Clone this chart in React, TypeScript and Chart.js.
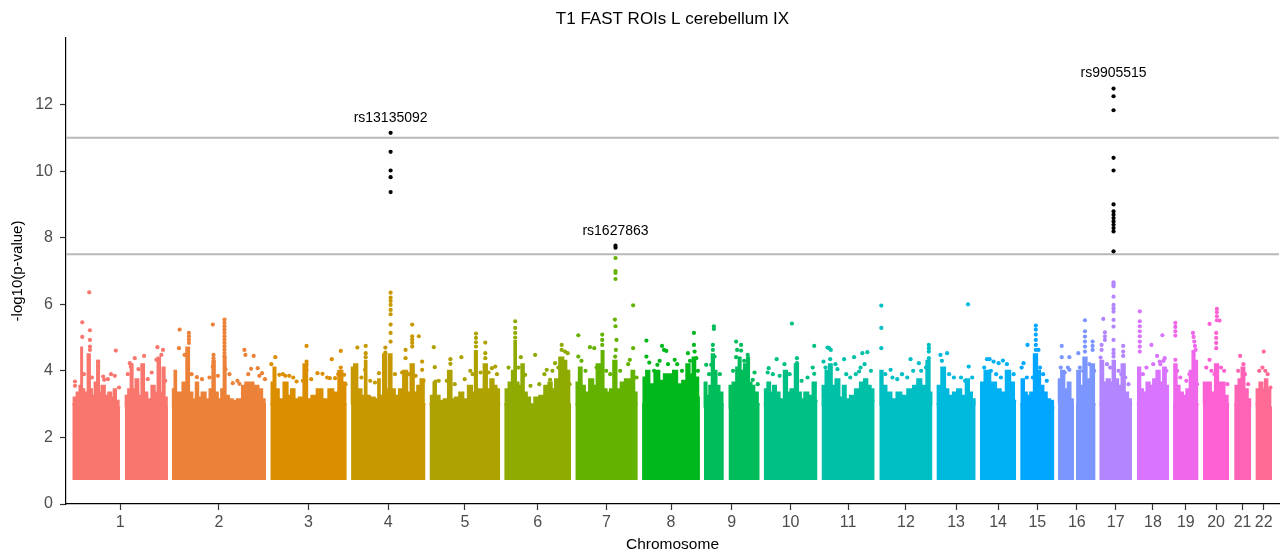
import React, { useEffect, useRef } from 'react';
import { Chart, registerables } from 'chart.js';

Chart.register(...registerables);

// ---------- data (x = cumulative genomic position, Mb; y = -log10(p)) ----------
const chromosomes = ['1','2','3','4','5','6','7','8','9','10','11','12','13','14','15','16','17','18','19','20','21','22'];
const yTickValues = [0, 2, 4, 6, 8, 10, 12];
const thresholdLines = [7.5, 11];
const lowestLogP = 0.72;
const xLimits = [-15, 3027.5];
const yLimits = [0, 14];

// upper contour of the dense SNP mass, per chromosome arm
const mass1a = [[0.8,3.0],[7.5,3.2],[15.8,3.35],[21.7,3.55],[24.2,4.7],[26.7,3.45],[35,3.35],[43.3,4.5],[46.7,3.45],[53.3,3.25],[60,3.65],[65.8,4.3],[70,3.35],[78.3,3.55],[86.7,3.25],[95,3.35],[101.7,3.2],[107.5,3.45],[113.3,3.1],[120.8,2.9]];
const mass1b = [[132.5,2.9],[136.7,3.25],[145,3.45],[149.2,4.2],[155,3.45],[163.3,3.75],[170,3.25],[178.3,4.2],[183.3,3.35],[195,3.15],[203.3,3.55],[211.7,3.35],[217.5,4.4],[224.2,3.35],[230,4.1],[235,3.2],[240.8,2.9]];
const mass2 = [[250.8,2.9],[255,3.45],[259.2,4.0],[263.3,3.35],[271.7,3.35],[282.5,3.65],[290.8,4.7],[296.7,3.35],[307.5,3.15],[313.3,3.65],[320,3.2],[330,3.35],[340.8,3.15],[349.2,3.45],[355,4.3],[361.7,3.35],[370,3.15],[378.3,3.45],[382.5,4.4],[388.3,3.25],[399.2,3.15],[407.5,3.1],[420,3.15],[432.5,3.55],[436.7,3.65],[449.2,3.65],[461.7,3.55],[474.2,3.45],[480,3.15],[486.7,3.0]];
const mass3 = [[497.5,3.0],[503.3,3.65],[507.5,4.1],[513.3,3.45],[524.2,3.15],[536.7,3.65],[545,3.25],[553.3,3.45],[563.3,3.15],[574.2,3.2],[586.7,4.2],[593.3,3.15],[607.5,3.25],[620,3.45],[636.7,3.15],[649.2,3.45],[661.7,3.35],[674.2,4.0],[682.5,3.65],[689.2,3.0]];
const mass4 = [[700,3.0],[703.3,4.1],[711.7,4.2],[720,3.45],[732.5,3.25],[736.7,4.3],[740.8,3.25],[753.3,3.2],[765.8,3.15],[770,3.75],[774.2,3.25],[786,4.5],[790,3.45],[799.2,4.5],[804,3.45],[815.8,3.25],[824.2,3.45],[836.7,4.0],[845,3.35],[853.3,4.2],[861.7,3.35],[870,3.55],[878.3,3.75],[886.7,3.0]];
const mass5 = [[896.7,3.0],[903.3,3.25],[910,3.65],[915.8,3.25],[928.3,3.1],[936.7,3.15],[949.2,4.0],[955,3.15],[965.8,3.2],[976.7,3.35],[986.7,3.15],[999.2,3.55],[1007.5,3.35],[1013.3,4.6],[1018.3,3.45],[1028.3,3.45],[1036.7,4.2],[1045,3.45],[1053.3,3.75],[1061.7,3.55],[1068.3,3.45],[1074.2,3.0]];
const mass6 = [[1084.2,3.0],[1090.8,3.45],[1099.2,3.65],[1107.5,4.0],[1111.7,4.9],[1115.8,3.65],[1124.2,3.55],[1130,4.2],[1136.7,3.35],[1145,3.2],[1153.3,3.0],[1165.8,3.2],[1178.3,3.25],[1190.8,3.55],[1199.2,3.65],[1207.5,3.45],[1215.8,3.75],[1228.3,4.4],[1236.7,4.3],[1243.3,4.0],[1251.7,3.0]];
const mass7 = [[1262.5,3.0],[1268.3,3.65],[1274.2,4.1],[1282.5,3.55],[1290.8,3.35],[1303.3,3.75],[1311.7,3.55],[1320,4.2],[1326.7,4.2],[1330,4.6],[1336.7,3.45],[1345,3.35],[1353.3,3.45],[1361.7,4.3],[1370,3.45],[1382.5,3.65],[1390.8,3.75],[1399.2,3.75],[1407.5,4.0],[1413.3,3.35],[1419.2,3.0]];
const mass8 = [[1430,3.0],[1436.7,3.8],[1443.3,4.0],[1453.3,3.6],[1468.3,4.0],[1478.3,3.7],[1490.8,3.9],[1503.3,3.9],[1511.7,4.0],[1524.2,3.6],[1536.7,3.7],[1545,4.2],[1553.3,3.9],[1560,4.4],[1566.7,3.8],[1575,3.2]];
const mass9a = [[1585,2.9],[1588.3,3.65],[1595,3.25],[1601.7,3.55],[1607.5,4.5],[1613.3,4.0],[1620,3.55],[1628.3,3.35],[1635,3.0]];
const mass9b = [[1646.7,2.9],[1651.7,3.55],[1661.7,3.65],[1670,4.1],[1674.2,4.4],[1680,4.0],[1690.8,4.2],[1695,4.4],[1701.7,3.65],[1707.5,3.55],[1715.8,3.35],[1725,3.0]];
const mass10 = [[1735,3.0],[1740.8,3.45],[1747.5,3.65],[1755,3.35],[1761.7,3.55],[1770,3.35],[1780,3.15],[1790.8,4.0],[1796.7,3.35],[1807.5,3.45],[1818.3,4.2],[1824.2,3.35],[1832.5,3.15],[1840.8,3.35],[1853.3,3.25],[1861.7,3.65],[1870,3.1]];
const mass11 = [[1880,3.0],[1885,3.55],[1895,4.0],[1901.7,4.2],[1910,3.55],[1920,3.75],[1930,3.2],[1936.7,3.55],[1945,3.15],[1957.5,3.25],[1970,3.45],[1982.5,3.65],[1990.8,3.75],[1999.2,3.55],[2007.5,3.45],[2013.3,3.1]];
const mass12 = [[2025,3.0],[2030,4.0],[2036.7,3.55],[2049.2,3.35],[2061.7,3.15],[2074.2,3.35],[2086.7,3.25],[2103.3,3.45],[2115.8,3.55],[2124.2,3.75],[2136.7,3.55],[2149.2,4.3],[2153.3,3.35],[2158.3,3.0]];
const mass13 = [[2168.3,3.0],[2174.2,3.55],[2186.7,4.1],[2193.3,3.45],[2203.3,3.25],[2215.8,3.35],[2224.2,3.45],[2236.7,3.25],[2246.7,3.75],[2253.3,3.35],[2261.7,3.15],[2266.7,3.0]];
const mass14 = [[2277.5,3.0],[2282.5,3.65],[2295,4.0],[2311.7,3.65],[2324.2,3.45],[2335,3.35],[2349.2,4.0],[2357.5,3.65],[2368.3,3.1]];
const mass15 = [[2378.3,3.0],[2385,3.75],[2390.8,3.35],[2399.2,3.25],[2407.5,3.35],[2417.5,4.5],[2424.2,4.0],[2432.5,3.55],[2440.8,3.35],[2449.2,3.15],[2457.5,3.1],[2464.2,2.9]];
const mass16a = [[2473.3,3.0],[2476.7,3.75],[2485,4.0],[2493.3,3.45],[2501.7,3.65],[2507.5,3.15],[2513.3,3.0]];
const mass16b = [[2518.3,3.0],[2524.2,4.0],[2532.5,3.55],[2540.8,4.4],[2549.2,3.75],[2560,4.2],[2567.5,3.0]];
const mass17 = [[2576.7,3.0],[2582.5,4.3],[2590.8,3.65],[2599.2,3.75],[2607.5,3.65],[2612.5,4.3],[2620,3.75],[2628.3,3.55],[2636.7,4.2],[2645,3.35],[2653.3,3.15],[2659.2,3.0]];
const mass18 = [[2670.8,3.0],[2676.7,4.1],[2682.5,3.45],[2690.8,3.35],[2699.2,3.65],[2707.5,3.55],[2715.8,3.75],[2724.2,4.0],[2732.5,3.65],[2740.8,4.1],[2746.7,3.55],[2751.7,3.1]];
const mass19 = [[2761.7,3.0],[2767.5,4.2],[2774.2,3.55],[2782.5,3.35],[2790.8,3.25],[2799.2,3.45],[2807.5,4.0],[2813.3,4.6],[2818.3,4.3],[2825.8,3.0]];
const mass20 = [[2836.7,3.0],[2840.8,3.65],[2851.7,3.65],[2861.7,3.35],[2871.7,4.2],[2878.3,3.65],[2886.7,3.65],[2895,3.25],[2902.5,3.0]];
const mass21 = [[2915,3.0],[2921.7,3.55],[2930,3.75],[2936.7,4.1],[2945,3.45],[2953.3,3.15],[2957.5,2.9]];
const mass22 = [[2968.3,3.0],[2974.2,3.45],[2982.5,3.65],[2989.2,3.45],[2995,3.75],[3001.7,3.45],[3010,2.9]];

const massSegments: [number, number[][]][] = [
  [1, mass1a], [1, mass1b], [2, mass2], [3, mass3], [4, mass4], [5, mass5], [6, mass6], [7, mass7],
  [8, mass8], [9, mass9a], [9, mass9b], [10, mass10], [11, mass11], [12, mass12], [13, mass13],
  [14, mass14], [15, mass15], [16, mass16a], [16, mass16b], [17, mass17], [18, mass18],
  [19, mass19], [20, mass20], [21, mass21], [22, mass22],
];

// individual SNPs standing out above the mass: [chromosome, position, -log10 p]
const standoutSnps: number[][] = [
  [1,43.3,6.36],[1,25.8,5.46],[1,25.8,5.02],[1,45,5.22],[1,45,4.93],[1,45,4.73],[1,45,4.63],[1,110,4.61],[1,107.5,3.85],[1,7.5,3.68],[1,7.5,3.55],[1,65.8,4.28],[1,65.8,4.13],[1,78.3,3.83],[1,80.8,3.73],[1,157.5,4.38],[1,147.5,4.13],[1,180.8,4.45],[1,176.7,4.15],[1,214.2,4.71],[1,228.3,4.63],[1,211.7,4.33],[1,145,4.23],[1,224.2,4.48],
  [1,30,3.9],[1,50,3.8],[1,90,3.75],[1,98,3.9],[1,118,3.5],[1,140,3.9],[1,167,4.05],[1,190,3.75],[1,200,3.95],[1,234,3.7],
  [2,270,5.24],[2,268.3,4.68],[2,282.5,4.48],[2,293.3,5.14],[2,293.3,5.04],[2,293.3,4.94],[2,293.3,4.84],[2,313.3,3.81],[2,353.3,5.39],[2,355,4.48],[2,355,4.38],[2,353.3,4.13],
  [2,382.5,5.54],[2,382.5,5.44],[2,382.5,5.34],[2,382.5,5.24],[2,382.5,5.14],[2,382.5,5.04],[2,382.5,4.94],[2,382.5,4.84],[2,382.5,4.74],[2,382.5,4.64],[2,382.5,4.54],[2,382.5,4.44],
  [2,385,4.05],[2,403.3,3.63],[2,420,3.61],[2,432.5,4.63],[2,435,4.48],[2,455.8,4.45],[2,449.2,4.06],[2,465.8,4.08],[2,476.7,3.93],
  [2,300,3.9],[2,326,3.75],[2,345,3.8],[2,366,3.85],[2,395,3.9],[2,415,3.7],[2,442,3.9],[2,470,3.85],[2,484,3.75],
  [3,510,4.41],[3,520,3.88],[3,535,3.85],[3,545,3.85],[3,563.3,3.68],[3,588.3,4.75],[3,588.3,4.28],[3,588.3,4.18],[3,588.3,4.03],[3,615.8,3.93],[3,628.3,3.91],[3,651.7,4.35],[3,646.7,3.78],[3,660,3.78],[3,674.2,4.6],[3,674.2,4.1],[3,682.5,3.88],
  [3,500,4.2],[3,529,3.9],[3,555,3.8],[3,579,3.7],[3,600,3.75],[3,640,3.8],[3,668,3.9],[3,686,3.6],
  [4,715.8,4.7],[4,736.7,4.75],[4,736.7,4.53],[4,736.7,4.41],[4,735,4.03],[4,770,3.93],[4,786,4.7],[4,786,4.55],[4,799.2,6.35],[4,799.2,6.2],[4,799.2,6.1],[4,799.2,5.98],[4,799.2,5.83],[4,799.2,5.7],[4,799.2,5.39],[4,799.2,5.14],[4,799.2,4.88],[4,853.3,5.39],[4,853.3,5.04],[4,853.3,4.94],[4,853.3,4.84],[4,853.3,4.73],[4,870,5.04],[4,836.7,4.63],[4,836.7,4.38],[4,878.3,4.28],[4,878.3,4.03],
  [4,708,3.95],[4,726,3.8],[4,748,3.7],[4,760,3.65],[4,810,3.9],[4,828,3.95],[4,845,3.9],[4,862,3.85],[4,882,3.7],
  [5,907.5,4.71],[5,910,4.11],[5,911.7,3.68],[5,949.2,4.35],[5,949.2,4.21],[5,976.7,4.41],[5,999.2,4.0],[5,1013.3,5.12],[5,1013.3,4.99],[5,1013.3,4.86],[5,1013.3,4.73],[5,1036.7,4.85],[5,1036.7,4.53],[5,1036.7,4.38],[5,1053.3,4.08],[5,1061.7,4.13],
  [5,920,3.7],[5,940,3.7],[5,960,3.6],[5,985,3.75],[5,1005,3.9],[5,1025,3.95],[5,1045,3.95],[5,1066,3.9],
  [6,1111.7,5.49],[6,1111.7,5.29],[6,1111.7,5.14],[6,1111.7,5.0],[6,1125.8,4.41],[6,1136.7,3.88],[6,1161.7,4.48],[6,1211.7,4.23],[6,1228.3,4.78],[6,1228.3,4.63],[6,1236.7,4.58],[6,1243.3,4.53],[6,1190.8,4.03],[6,1199.2,3.73],
  [6,1095,4.1],[6,1120,4.1],[6,1150,3.55],[6,1172,3.6],[6,1185,3.9],[6,1205,4.0],[6,1220,4.1],[6,1248,3.6],
  [7,1270,5.07],[7,1270,4.43],[7,1299.2,4.71],[7,1310,4.68],[7,1330,5.09],[7,1330,4.93],[7,1330,4.78],[7,1361.7,5.54],[7,1363.3,5.34],[7,1365.8,4.93],[7,1364.2,4.63],[7,1362.5,4.43],[7,1407.5,4.68],[7,1399.2,4.33],[7,1407.5,5.97],[7,1363.3,7.39],[7,1363.3,7.0],[7,1363.3,6.94],[7,1363.3,6.76],
  [7,1278,4.3],[7,1288,4.0],[7,1316,4.1],[7,1340,4.0],[7,1350,3.9],[7,1375,4.0],[7,1395,4.2],[7,1416,3.8],
  [8,1440.8,4.91],[8,1440.8,4.43],[8,1468.3,4.18],[8,1480,4.75],[8,1485,4.63],[8,1490.8,4.6],[8,1511.7,4.33],[8,1560,5.14],[8,1560,4.78],[8,1561.7,4.58],[8,1565.8,4.38],[8,1545,4.53],
  [8,1448,4.25],[8,1460,4.0],[8,1474,4.3],[8,1495,4.2],[8,1518,4.2],[8,1530,4.0],[8,1550,4.3],[8,1570,4.0],
  [9,1610,5.34],[9,1610,5.26],[9,1607.5,4.78],[9,1607.5,4.63],[9,1611.7,4.43],[9,1590.8,4.18],[9,1603.3,4.18],[9,1665.8,4.88],[9,1678.3,4.78],[9,1668.3,4.63],[9,1678.3,4.61],[9,1695,4.48],[9,1665.8,4.41],[9,1707.5,3.73],[9,1653.3,3.33],
  [9,1598,3.9],[9,1625,3.9],[9,1658,4.0],[9,1686,4.3],[9,1712,3.95],[9,1720,3.6],
  [10,1805.8,5.42],[10,1767.5,4.35],[10,1747.5,4.08],[10,1818.3,4.38],[10,1818.3,4.23],[10,1861.7,3.91],[10,1861.7,4.75],
  [10,1745,3.95],[10,1758,3.9],[10,1775,3.85],[10,1787,4.2],[10,1800,3.9],[10,1830,3.7],[10,1845,3.8],[10,1858,4.1],
  [11,1895,4.7],[11,1899.2,4.68],[11,1903.3,4.63],[11,1885,4.28],[11,1901.7,4.35],[11,1920,4.05],[11,1936.7,4.35],[11,1961.7,4.41],[11,1982.5,4.53],[11,1995,4.56],[11,1974.2,3.98],
  [11,1890,4.1],[11,1915,4.2],[11,1942,3.9],[11,1952,3.8],[11,1966,3.9],[11,1978,4.1],[11,1988,4.2],[11,2004,4.0],
  [12,2030,5.96],[12,2030,5.29],[12,2030,4.68],[12,2053.3,4.03],[12,2103.3,4.35],[12,2124.2,4.23],[12,2149.2,4.78],[12,2149.2,4.68],[12,2149.2,4.58],[12,2149.2,4.38],
  [12,2040,3.9],[12,2058,3.8],[12,2070,3.75],[12,2082,3.9],[12,2095,3.8],[12,2110,4.0],[12,2130,4.0],[12,2142,4.1],
  [13,2178.3,4.48],[13,2195,4.53],[13,2249.2,4.13],[13,2247.5,6.0],
  [13,2182,4.3],[13,2200,3.9],[13,2212,3.8],[13,2230,3.8],[13,2240,3.7],[13,2258,3.8],
  [14,2295,4.35],[14,2311.7,4.28],[14,2324.2,4.23],[14,2335,4.31],[14,2301.7,4.35],
  [14,2288,4.1],[14,2305,4.0],[14,2318,3.9],[14,2330,3.8],[14,2345,4.2],[14,2362,3.9],
  [15,2396.7,4.78],[15,2386.7,4.23],[15,2417.5,5.36],[15,2417.5,5.24],[15,2417.5,5.09],[15,2417.5,4.93],[15,2417.5,4.78],[15,2417.5,4.63],[15,2424.2,4.63],
  [15,2382,4.1],[15,2395,3.8],[15,2410,3.8],[15,2428,4.1],[15,2436,3.9],[15,2445,3.7],
  [16,2482.5,4.75],[16,2482.5,4.41],[16,2501.7,4.41],[16,2501.7,4.03],[16,2540.8,5.52],[16,2540.8,5.19],[16,2540.8,5.03],[16,2540.8,4.88],[16,2540.8,4.73],[16,2540.8,4.58],[16,2560,4.88],[16,2560,4.75],[16,2560,4.63],[16,2524.2,4.53],
  [16,2480,4.1],[16,2490,3.95],[16,2498,4.1],[16,2528,4.1],[16,2536,4.0],[16,2552,4.2],[16,2564,4.0],
  [17,2586.7,5.56],[17,2590.8,5.16],[17,2590.8,5.04],[17,2590.8,4.93],[17,2582.5,4.78],[17,2582.5,4.63],[17,2636.7,4.75],[17,2636.7,4.58],[17,2636.7,4.45],
  [17,2612.5,6.66],[17,2612.5,6.6],[17,2612.5,6.54],[17,2612.5,6.23],[17,2612.5,5.98],[17,2612.5,5.88],[17,2612.5,5.78],[17,2612.5,5.53],[17,2612.5,5.33],[17,2612.5,4.93],[17,2612.5,4.63],[17,2612.5,4.53],[17,2612.5,4.43],
  [17,2580,4.4],[17,2596,4.2],[17,2604,4.1],[17,2625,4.0],[17,2632,3.9],[17,2642,3.8],[17,2650,3.6],
  [18,2678.3,5.79],[18,2678.3,5.49],[18,2678.3,5.34],[18,2678.3,5.19],[18,2678.3,5.04],[18,2678.3,4.88],[18,2678.3,4.73],[18,2678.3,4.58],[18,2707.5,4.78],[18,2721.7,4.45],[18,2735,5.07],[18,2728.3,4.28],[18,2740.8,4.38],
  [18,2686,3.9],[18,2695,4.1],[18,2712,4.2],[18,2730,4.2],[18,2738,4.3],[18,2745,4.0],
  [19,2767.5,5.44],[19,2767.5,5.32],[19,2767.5,5.19],[19,2767.5,5.06],[19,2767.5,4.33],[19,2811.7,5.14],[19,2813.3,5.02],[19,2815,4.88],[19,2816.7,4.75],[19,2818.3,4.63],
  [19,2772,4.0],[19,2780,3.8],[19,2795,3.7],[19,2803,3.9],[19,2822,3.6],
  [20,2853.3,5.41],[20,2871.7,5.86],[20,2871.7,5.76],[20,2871.7,5.64],[20,2871.7,5.52],[20,2878.3,5.51],[20,2870,5.14],[20,2870,4.99],[20,2870,4.84],[20,2870,4.68],[20,2853.3,4.33],
  [20,2845,4.1],[20,2858,4.0],[20,2866,3.9],[20,2882,4.1],[20,2890,4.0],[20,2898,3.6],
  [21,2930,4.45],[21,2938.3,4.2],[21,2925,4.0],[21,2942,3.9],[21,2950,3.6],
  [22,2989.2,4.58],[22,2993.3,4.0],[22,2978,4.0],[22,2986,4.1],[22,2999,3.9],[22,3006,3.5],
];

// genome-wide significant SNPs (black)
const significantSnps: number[][] = [
  [4,799.2,11.15],[4,799.2,10.58],[4,799.2,10.02],[4,799.2,9.82],[4,799.2,9.37],
  [7,1363.3,7.76],[7,1363.3,7.70],
  [17,2612.5,12.48],[17,2612.5,12.25],[17,2612.5,11.83],[17,2612.5,10.40],[17,2612.5,10.02],[17,2612.5,9.0],[17,2612.5,8.79],[17,2612.5,8.69],[17,2612.5,8.59],[17,2612.5,8.49],[17,2612.5,8.39],[17,2612.5,8.29],[17,2612.5,8.19],[17,2612.5,7.59],
];

const leadSnpNames = ['rs13135092', 'rs1627863', 'rs9905515'];
const leadSnpPositions = [799.2, 1363.3, 2612.5];
const leadSnpLogP = [11.15, 7.76, 12.48];

// ---------- styling helpers ----------
const FONT = '"Liberation Sans", Arial, Helvetica, sans-serif';

function hcl(h: number, c: number, l: number): string {
  const hr = (h * Math.PI) / 180;
  const U = c * Math.cos(hr);
  const V = c * Math.sin(hr);
  const Xn = 95.047, Yn = 100, Zn = 108.883;
  const den = Xn + 15 * Yn + 3 * Zn;
  const un = (4 * Xn) / den, vn = (9 * Yn) / den;
  const Y = Yn * (l > 8 ? Math.pow((l + 16) / 116, 3) : l / 903.3);
  const u = U / (13 * l) + un;
  const v = V / (13 * l) + vn;
  const X = (9 * Y * u) / (4 * v);
  const Z = (Y * (12 - 3 * u - 20 * v)) / (4 * v);
  const x = X / 100, y = Y / 100, z = Z / 100;
  const lin = [
    3.2404542 * x - 1.5371385 * y - 0.4985314 * z,
    -0.969266 * x + 1.8760108 * y + 0.041556 * z,
    0.0556434 * x - 0.2040259 * y + 1.0572252 * z,
  ];
  const toHex = (t: number) => {
    let g = t <= 0.0031308 ? 12.92 * t : 1.055 * Math.pow(t, 1 / 2.4) - 0.055;
    g = Math.max(0, Math.min(1, g));
    return Math.round(g * 255).toString(16).padStart(2, '0');
  };
  return '#' + lin.map(toHex).join('');
}

const chromColors = chromosomes.map((_, i) => hcl(15 + (360 * i) / chromosomes.length, 100, 65));

export default function App() {
  const canvasRef = useRef<HTMLCanvasElement | null>(null);

  useEffect(() => {
    const canvas = canvasRef.current;
    if (!canvas) return;

    const centers = chromosomes.map((_, i) => {
      const xs: number[] = [];
      massSegments.forEach(([c, pts]) => {
        if (c === i + 1) pts.forEach((p) => xs.push(p[0]));
      });
      return (Math.min(...xs) + Math.max(...xs)) / 2;
    });

    const datasets: any[] = [];
    massSegments.forEach(([c, pts]) => {
      const col = chromColors[c - 1];
      datasets.push({
        data: pts.map(([x, y]) => ({ x, y })),
        showLine: true,
        stepped: 'middle',
        fill: { value: lowestLogP },
        backgroundColor: col,
        borderColor: col,
        borderWidth: 2,
        pointRadius: 0,
        order: 10,
      });
    });
    chromosomes.forEach((_, i) => {
      const pts = standoutSnps.filter((r) => r[0] === i + 1).map((r) => ({ x: r[1], y: r[2] }));
      if (!pts.length) return;
      datasets.push({
        data: pts,
        showLine: false,
        backgroundColor: chromColors[i],
        borderColor: chromColors[i],
        borderWidth: 0,
        pointRadius: 2.1,
        order: 5,
      });
    });
    thresholdLines.forEach((t) => {
      datasets.push({
        data: [{ x: xLimits[0], y: t }, { x: xLimits[1], y: t }],
        showLine: true,
        borderColor: '#b8b8b8',
        borderWidth: 2,
        pointRadius: 0,
        fill: false,
        order: 3,
      });
    });
    datasets.push({
      data: significantSnps.map((r) => ({ x: r[1], y: r[2] })),
      showLine: false,
      backgroundColor: '#000000',
      borderColor: '#000000',
      borderWidth: 0,
      pointRadius: 2.1,
      order: 1,
    });

    const annotations = {
      id: 'annotations',
      afterDraw(chart: any) {
        const { ctx, chartArea, scales } = chart;
        ctx.save();
        ctx.fillStyle = '#000';
        ctx.textAlign = 'center';
        ctx.textBaseline = 'middle';
        ctx.font = `17px ${FONT}`;
        ctx.fillText('T1 FAST ROIs L cerebellum IX', (chartArea.left + chartArea.right) / 2, 19);
        ctx.font = `15.5px ${FONT}`;
        ctx.fillText('Chromosome', (chartArea.left + chartArea.right) / 2, 545);
        ctx.save();
        ctx.translate(18, (chartArea.top + chartArea.bottom) / 2);
        ctx.rotate(-Math.PI / 2);
        ctx.font = `15px ${FONT}`;
        ctx.fillText('-log10(p-value)', 0, 0);
        ctx.restore();
        ctx.font = `14px ${FONT}`;
        leadSnpNames.forEach((name, i) => {
          const px = scales.x.getPixelForValue(leadSnpPositions[i]);
          const py = scales.y.getPixelForValue(leadSnpLogP[i]);
          ctx.fillText(name, px, py - 15);
        });
        ctx.restore();
      },
    };

    const chart = new Chart(canvas, {
      type: 'scatter',
      data: { datasets },
      options: {
        animation: false,
        responsive: false,
        devicePixelRatio: 1,
        events: [],
        layout: { padding: { top: 38, left: 0, right: 0, bottom: 0 } },
        plugins: {
          legend: { display: false },
          tooltip: { enabled: false },
          title: { display: false },
        },
        scales: {
          x: {
            type: 'linear',
            min: xLimits[0],
            max: xLimits[1],
            afterBuildTicks: (s: any) => {
              s.ticks = centers.map((v) => ({ value: v }));
            },
            afterFit: (s: any) => {
              s.height = 52;
            },
            ticks: {
              autoSkip: false,
              maxRotation: 0,
              minRotation: 0,
              padding: 3,
              color: '#4d4d4d',
              font: { size: 16, family: FONT },
              callback: (_v: any, i: number) => chromosomes[i],
            },
            grid: {
              drawOnChartArea: false,
              drawTicks: true,
              tickLength: 6,
              tickColor: '#333333',
              tickWidth: 1.2,
            },
            border: { display: true, color: '#000000', width: 1.2 },
          },
          y: {
            type: 'linear',
            min: yLimits[0],
            max: yLimits[1],
            afterBuildTicks: (s: any) => {
              s.ticks = yTickValues.map((v) => ({ value: v }));
            },
            afterFit: (s: any) => {
              s.width = 66;
            },
            ticks: {
              padding: 7,
              color: '#4d4d4d',
              font: { size: 16, family: FONT },
              callback: (v: any) => String(v),
            },
            grid: {
              drawOnChartArea: false,
              drawTicks: true,
              tickLength: 6,
              tickColor: '#333333',
              tickWidth: 1.2,
            },
            border: { display: true, color: '#000000', width: 1.2 },
          },
        },
      },
      plugins: [annotations],
    } as any);

    return () => chart.destroy();
  }, []);

  return (
    <div style={{ position: 'fixed', left: 0, top: 0, width: 1283, height: 556, background: '#fff' }}>
      <canvas ref={canvasRef} width={1283} height={556} style={{ width: 1283, height: 556, display: 'block' }} />
    </div>
  );
}
